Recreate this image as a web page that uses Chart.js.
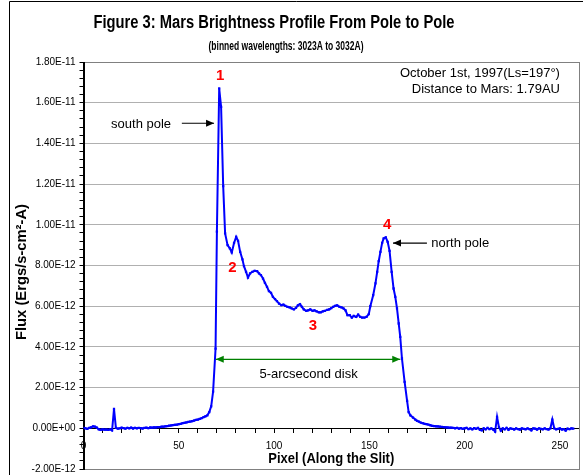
<!DOCTYPE html>
<html lang="en">
<head>
<meta charset="UTF-8">
<title>Mars Brightness Profile</title>
<script src="https://cdn.jsdelivr.net/npm/chart.js"></script>
<style>
  html, body { margin: 0; padding: 0; background: #fff; }
  #chart { display: block; }
</style>
</head>
<body>
<canvas id="chart" width="583" height="475"></canvas>
<script>
// pixel position along the slit and flux (in units of 1E-12 Ergs/s-cm2-A)
const PIXEL = [
  0, 1, 2, 3, 4, 5, 6, 7, 8, 9, 10, 11, 12, 13, 14, 15, 16, 17, 18, 19,
  20, 21, 22, 23, 24, 25, 26, 27, 28, 29, 30, 31, 32, 33, 34, 35, 36, 37, 38, 39,
  40, 41, 42, 43, 44, 45, 46, 47, 48, 49, 50, 51, 52, 53, 54, 55, 56, 57, 58, 59,
  60, 61, 62, 63, 64, 65, 66, 67, 68, 69.3,
  70.0, 71.2, 72.2, 73.3, 74.3, 75.6, 76.8, 77.8, 79.0, 80.1, 81.1, 82.2, 83.4, 84.2, 85.3,
  86.3, 87.4, 88.6, 89.8, 91.1, 92.1, 93.1, 94.2, 95.2, 96.3, 97.3, 98.4, 99.4, 100.5,
  101.5, 102.6, 103.8, 104.9, 105.9, 107.0, 108.2, 109.2, 110.4, 111.5, 112.5, 113.6,
  114.6, 115.6, 116.9, 117.9, 119.0, 120.2, 121.2, 122.3, 123.5, 124.5, 125.6, 126.6,
  127.9, 128.9, 130.0, 131.0, 132.1, 133.1, 134.3, 135.4, 136.4, 137.5, 138.5, 139.7,
  140.8, 141.8, 143.1, 144.1, 145.2, 146.2, 147.4, 148.5, 149.7, 150.5, 152.0, 153.2,
  154.1, 154.9, 155.8, 156.7, 157.5, 158.6, 159.6, 160.6, 161.7, 162.7, 163.6, 164.5,
  165.4, 166.2, 167.1, 168.5, 169.8, 170.6, 171.5, 172.9, 174.1, 175.0,
  176, 177, 178, 179, 180, 181, 182, 183, 184, 185, 186, 187, 188, 189,
  190, 191, 192, 193, 194, 195, 196, 197, 198, 199, 200, 201, 202, 203, 204, 205,
  206, 207, 208, 209, 210, 211, 212, 213, 214, 215, 216, 217, 218, 219, 220, 221,
  222, 223, 224, 225, 226, 227, 228, 229, 230, 231, 232, 233, 234, 235, 236, 237,
  238, 239, 240, 241, 242, 243, 244, 245, 246, 247, 248, 249, 250, 251, 252, 253,
  254, 255, 256, 257
];
const FLUX = [
  0.02, 0.0, -0.03, 0.02, 0.05, 0.1, 0.08, 0.03, -0.05, -0.08, -0.05, -0.07, -0.06, -0.08, -0.05, -0.1, 0.95, 0.02, -0.02, 0.0,
  0.03, 0.01, -0.02, 0.02, 0.0, 0.03, -0.01, 0.02, 0.0, 0.02, 0.01, -0.01, 0.02, 0.03, 0.01, 0.04, 0.03, 0.05, 0.04, 0.06,
  0.06, 0.08, 0.08, 0.1, 0.11, 0.13, 0.14, 0.16, 0.17, 0.18, 0.2, 0.22, 0.25, 0.27, 0.29, 0.31, 0.33, 0.35, 0.38, 0.41,
  0.43, 0.46, 0.5, 0.55, 0.59, 0.64, 0.8, 1.08, 1.8, 3.92,
  9.66, 16.7, 15.8, 11.9, 9.58, 9.0, 8.84, 8.64, 9.11, 9.41, 9.21, 8.67, 8.3, 7.97, 7.69,
  7.41, 7.61, 7.69, 7.74, 7.72, 7.61, 7.53, 7.36, 7.15, 6.95, 6.74, 6.66, 6.46, 6.35,
  6.25, 6.13, 6.05, 6.08, 6.02, 5.97, 5.94, 5.89, 5.84, 5.92, 6.04, 6.1,
  5.97, 5.84, 5.77, 5.8, 5.84, 5.77, 5.8, 5.75, 5.7, 5.7, 5.75, 5.77,
  5.82, 5.84, 5.9, 5.97, 6.02, 6.04, 5.97, 5.94, 5.89, 5.8, 5.56, 5.56,
  5.44, 5.52, 5.47, 5.59, 5.47, 5.44, 5.44, 5.47, 5.61, 6.0, 6.54, 7.12,
  7.69, 8.21, 8.67, 9.11, 9.33, 9.38, 9.16, 8.72, 7.69, 6.87, 6.46, 5.89,
  5.15, 4.49, 3.43, 2.28, 1.35, 0.8, 0.64, 0.53, 0.43, 0.37,
  0.33, 0.28, 0.25, 0.22, 0.2, 0.18, 0.15, 0.12, 0.11, 0.1, 0.09, 0.08, 0.07, 0.06,
  0.05, 0.04, 0.03, 0.03, 0.02, 0.0, 0.02, -0.02, 0.01, -0.03, 0.0, 0.02, -0.04, 0.0, -0.05, 0.01,
  -0.03, 0.02, -0.08, -0.1, 0.0, -0.05, 0.02, -0.04, 0.0, -0.06, -0.16, 0.56, 0.05, -0.12, 0.0, -0.05,
  0.02, -0.08, 0.0, -0.03, -0.06, 0.0, -0.04, -0.07, 0.0, -0.03, -0.05, 0.0, -0.04, -0.1, 0.0, -0.02,
  -0.06, 0.0, -0.03, -0.05, 0.0, -0.04, -0.06, 0.0, 0.43, 0.0, -0.05, -0.03, 0.0, -0.06, -0.04, -0.12,
  -0.02, -0.04, 0.0, -0.02
];

const X_MAJOR = [0, 50, 100, 150, 200, 250];
const X_MAX = 260;
const Y_MAJOR = [-2, 0, 2, 4, 6, 8, 10, 12, 14, 16, 18];
const Y_MINOR_STEPS = 5;

// annotations, in data units (pixel, flux 1E-12)
const NUM_TEXT = ['1', '2', '3', '4'];
const NUM_X = [71.7, 78.2, 120.4, 159.3];
const NUM_Y = [17.3, 7.88, 5.02, 10.0];

const FONT = "'Liberation Sans', Arial, Helvetica, sans-serif";
const GRID = '#b0b0b0';

const X_TICKS = [];
for (let v = 0; v <= X_MAX; v += 10) X_TICKS.push(v);
const Y_TICKS = [];
for (let i = 0; i < Y_MAJOR.length - 1; i++) {
  const a = Y_MAJOR[i], b = Y_MAJOR[i + 1];
  for (let k = 0; k < Y_MINOR_STEPS; k++) Y_TICKS.push(+(a + (b - a) * k / Y_MINOR_STEPS).toFixed(3));
}
Y_TICKS.push(Y_MAJOR[Y_MAJOR.length - 1]);

function isMajorY(v) { return Y_MAJOR.some(m => Math.abs(m - v) < 1e-6); }

function sci(v) {
  const real = v * 1e-12;
  if (Math.abs(real) < 1e-20) return '0.00E+00';
  const parts = real.toExponential(2).split('e');
  const e = parseInt(parts[1], 10);
  return parts[0] + 'E' + (e < 0 ? '-' : '+') + String(Math.abs(e)).padStart(2, '0');
}

function arrowHead(ctx, x1, y1, x2, y2) {
  const a = Math.atan2(y2 - y1, x2 - x1), L = 8, W = 3.5;
  ctx.beginPath();
  ctx.moveTo(x2, y2);
  ctx.lineTo(x2 - L * Math.cos(a) + W * Math.sin(a), y2 - L * Math.sin(a) - W * Math.cos(a));
  ctx.lineTo(x2 - L * Math.cos(a) - W * Math.sin(a), y2 - L * Math.sin(a) + W * Math.cos(a));
  ctx.closePath();
  ctx.fill();
}

function arrow(ctx, x1, y1, x2, y2, color, both) {
  ctx.save();
  ctx.strokeStyle = color;
  ctx.fillStyle = color;
  ctx.lineWidth = 1.2;
  ctx.beginPath();
  ctx.moveTo(x1, y1);
  ctx.lineTo(x2, y2);
  ctx.stroke();
  arrowHead(ctx, x1, y1, x2, y2);
  if (both) arrowHead(ctx, x2, y2, x1, y1);
  ctx.restore();
}

function text(ctx, str, x, y, font, color, align, maxW) {
  ctx.font = font;
  ctx.fillStyle = color;
  ctx.textAlign = align || 'center';
  ctx.textBaseline = 'middle';
  if (maxW) ctx.fillText(str, x, y, maxW);
  else ctx.fillText(str, x, y);
}

const decor = {
  id: 'decor',
  beforeDraw(chart) {
    const ctx = chart.ctx;
    ctx.save();
    ctx.fillStyle = '#fff';
    ctx.fillRect(0, 0, chart.width, chart.height);
    // outer chart frame
    ctx.strokeStyle = '#000';
    ctx.lineWidth = 1;
    ctx.beginPath();
    ctx.moveTo(9.5, chart.height);
    ctx.lineTo(9.5, 1.5);
    ctx.lineTo(chart.width, 1.5);
    ctx.stroke();
    ctx.restore();
  },
  beforeDatasetsDraw(chart) {
    const ctx = chart.ctx, a = chart.chartArea;
    ctx.save();
    ctx.strokeStyle = '#808080';
    ctx.lineWidth = 1;
    ctx.strokeRect(Math.round(a.left) + 0.5, Math.round(a.top) + 0.5,
      Math.round(a.right - a.left) - 1, Math.round(a.bottom - a.top));
    ctx.strokeStyle = '#000';
    ctx.beginPath();
    ctx.moveTo(Math.round(a.left) + 0.5, a.top);
    ctx.lineTo(Math.round(a.left) + 0.5, a.bottom + 1);
    ctx.stroke();
    ctx.restore();
  },
  afterDraw(chart) {
    const ctx = chart.ctx, xs = chart.scales.x, ys = chart.scales.y;
    const px = v => xs.getPixelForValue(v), py = v => ys.getPixelForValue(v);
    ctx.save();
    text(ctx, 'Figure 3: Mars Brightness Profile From Pole to Pole', 274, 23, 'bold 18px ' + FONT, '#000', 'center', 361);
    text(ctx, '(binned wavelengths: 3023A to 3032A)', 286, 47, 'bold 12.5px ' + FONT, '#000', 'center', 155);

    ctx.save();
    ctx.translate(22, 272);
    ctx.rotate(-Math.PI / 2);
    text(ctx, 'Flux (Ergs/s-cm\u00B2-A)', 0, 0, 'bold 15px ' + FONT, '#000', 'center', 136);
    ctx.restore();
    text(ctx, 'Pixel (Along the Slit)', (chart.chartArea.left + chart.chartArea.right) / 2, 459, 'bold 15px ' + FONT, '#000', 'center', 126);

    text(ctx, 'October 1st, 1997(Ls=197\u00B0)', px(250), py(17.46), '13px ' + FONT, '#000', 'right', 160);
    text(ctx, 'Distance to Mars: 1.79AU', px(250), py(16.63), '13px ' + FONT, '#000', 'right', 150);

    text(ctx, 'south pole', px(30.2), py(14.95), '13px ' + FONT, '#000', 'center');
    arrow(ctx, px(51.6), py(14.99), px(68.5), py(14.99), '#000', false);
    text(ctx, 'north pole', px(182.5), py(9.1), '13px ' + FONT, '#000', 'left');
    arrow(ctx, px(180.2), py(9.1), px(162.4), py(9.1), '#000', false);
    arrow(ctx, px(69.4), py(3.39), px(166.2), py(3.39), '#008000', true);
    text(ctx, '5-arcsecond disk', px(118.1), py(2.66), '13px ' + FONT, '#000', 'center');

    NUM_TEXT.forEach((t, i) => text(ctx, t, px(NUM_X[i]), py(NUM_Y[i]), 'bold 15px ' + FONT, '#ff0000', 'center'));
    ctx.restore();
  }
};

Chart.defaults.font.family = FONT;
Chart.defaults.color = '#000';

new Chart(document.getElementById('chart'), {
  type: 'scatter',
  data: {
    datasets: [{
      data: PIXEL.map((p, i) => ({ x: p, y: FLUX[i] })),
      showLine: true,
      borderColor: '#0000ff',
      backgroundColor: '#0000ff',
      borderWidth: 2,
      pointStyle: 'rect',
      pointRadius: 1.6,
      pointBorderWidth: 0,
      tension: 0
    }]
  },
  options: {
    responsive: false,
    animation: false,
    events: [],
    layout: { padding: { left: 13.5, top: 62, right: 3, bottom: 6 } },
    plugins: { legend: { display: false }, tooltip: { enabled: false } },
    scales: {
      x: {
        type: 'linear',
        min: 0,
        max: X_MAX,
        position: { y: 0 },
        afterBuildTicks: s => { s.ticks = X_TICKS.map(v => ({ value: v })); },
        afterFit: s => { s.height = 0; s.paddingLeft = 0; s.paddingRight = 0; },
        ticks: {
          autoSkip: false,
          maxRotation: 0,
          padding: 8,
          font: { size: 10 },
          callback: v => X_MAJOR.includes(v) ? String(v) : ''
        },
        grid: { drawOnChartArea: false, drawTicks: true, tickLength: 4, tickColor: '#000' },
        border: { color: '#000', width: 1 }
      },
      y: {
        min: Y_MAJOR[0],
        max: Y_MAJOR[Y_MAJOR.length - 1],
        afterBuildTicks: s => { s.ticks = Y_TICKS.map(v => ({ value: v })); },
        afterFit: s => { s.width = 70; s.paddingTop = 0; s.paddingBottom = 0; },
        ticks: {
          autoSkip: false,
          padding: 4,
          font: { size: 10 },
          callback: v => isMajorY(v) ? sci(v) : ''
        },
        grid: {
          color: c => (isMajorY(c.tick.value) && c.tick.value !== 0 && c.tick.value !== Y_MAJOR[0] && c.tick.value !== Y_MAJOR[Y_MAJOR.length - 1]) ? GRID : 'rgba(0,0,0,0)',
          tickColor: '#000',
          tickLength: 4
        },
        border: { color: '#000', width: 1 }
      }
    }
  },
  plugins: [decor]
});
</script>
</body>
</html>
